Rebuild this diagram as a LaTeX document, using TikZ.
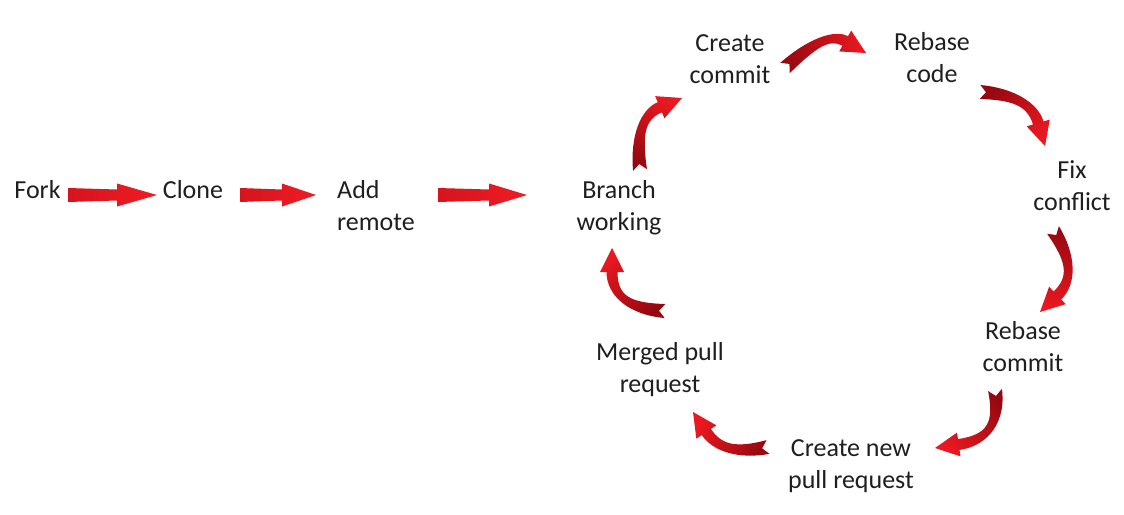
\documentclass[tikz,border=0pt]{standalone}
\usepackage{fontspec}
\setmainfont{Carlito}
\usetikzlibrary{calc}
\definecolor{darkred}{RGB}{150,8,16}
\definecolor{brightred}{RGB}{234,24,32}
\definecolor{flatred}{RGB}{238,28,36}
\definecolor{flatdark}{RGB}{215,20,28}
\tikzset{
  lbl/.style={font=\fontsize{26}{32}\selectfont, align=center, inner sep=0pt, text=black!88},
  carrowfill/.style={top color=brightred, bottom color=darkred},
  sarrowfill/.style={left color=flatdark, right color=flatred}
}
% curved tapered arrow: tail, control, head tip (quadratic centre line)
\newcommand{\carrow}[3]{%
  \coordinate (cT) at #1; \coordinate (cC) at #2; \coordinate (cH) at #3;
  \coordinate (cB) at ($(cH)!24pt!(cC)$);
  \coordinate (cP) at ($(cT)!0.667!(cC)$);
  \coordinate (cQ) at ($(cB)!0.667!(cC)$);
  \coordinate (cTa) at ($(cT)!7pt!90:(cC)$);
  \coordinate (cTb) at ($(cT)!7pt!-90:(cC)$);
  \coordinate (cN) at ($(cT)!6pt!(cC)$);
  \coordinate (cPa) at ($(cP)!6pt!90:(cC)$);
  \coordinate (cPb) at ($(cP)!6pt!-90:(cC)$);
  \coordinate (cQa) at ($(cQ)!5.5pt!-90:(cC)$);
  \coordinate (cQb) at ($(cQ)!5.5pt!90:(cC)$);
  \coordinate (cBa) at ($(cB)!5.5pt!90:(cH)$);
  \coordinate (cBb) at ($(cB)!5.5pt!-90:(cH)$);
  \coordinate (cHa) at ($(cB)!12pt!90:(cH)$);
  \coordinate (cHb) at ($(cB)!12pt!-90:(cH)$);
  \pgfmathanglebetweenpoints{\pgfpointanchor{cT}{center}}{\pgfpointanchor{cH}{center}}%
  \pgfmathsetmacro{\shang}{\pgfmathresult-90}%
  \shade[carrowfill, shading angle=\shang]
    (cTa) .. controls (cPa) and (cQa) .. (cBa) -- (cHa) -- (cH) -- (cHb) -- (cBb)
    .. controls (cQb) and (cPb) .. (cTb) -- (cN) -- cycle;
}
% straight block arrow: start x, head base x, tip x, y
\newcommand{\sarrow}[4]{%
  \shade[sarrowfill] (#1,#4-7) -- (#2,#4-5.5) -- (#2,#4-11.5) -- (#3,#4)
    -- (#2,#4+11.5) -- (#2,#4+5.5) -- (#1,#4+7) -- cycle;
}
\begin{document}
\begin{tikzpicture}[x=1pt,y=-1pt]
\fill[white] (0,0) rectangle (1124,514);
\useasboundingbox (0,0) rectangle (1124,514);

% labels
\node[lbl] (fork)   at (37.5,190) {Fork};
\node[lbl] (clone)  at (193,190) {Clone};
\node[lbl, align=left, anchor=west] (remote) at (337,206) {Add\\remote};
\node[lbl] (branch) at (619,208) {Branch\\working};
\node[lbl] (ccommit) at (730,59) {Create\\commit};
\node[lbl] (rcode)  at (932,58) {Rebase\\code};
\node[lbl] (fix)    at (1072,186) {Fix\\conflict};
\node[lbl] (rcommit) at (1023,347) {Rebase\\commit};
\node[lbl] (newpr)  at (851,466) {Create new\\pull request};
\node[lbl] (merged) at (660,370) {Merged pull\\request};

% straight arrows
\sarrow{68}{117}{157}{195}
\sarrow{240}{282}{316}{195}
\sarrow{438}{489}{527}{195}

% curved arrows of the cycle
\carrow{(640,170)}{(634,118)}{(682,98)}
\carrow{(785,68)}{(826,30)}{(866,53)}
\carrow{(980,92)}{(1030,95)}{(1045,146)}
\carrow{(1053,230)}{(1081,273)}{(1040,312)}
\carrow{(995,390)}{(1003,438)}{(935,448)}
\carrow{(768,447)}{(723,457)}{(693,412)}
\carrow{(665,311)}{(612,308)}{(612,248)}
\end{tikzpicture}
\end{document}
